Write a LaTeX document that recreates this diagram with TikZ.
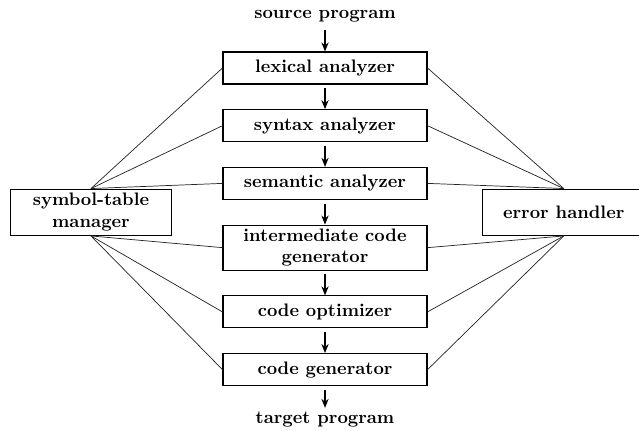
\documentclass[tikz,border=0pt]{standalone}
\usepackage{tikz}
\usetikzlibrary{arrows.meta, positioning, calc}
\tikzset{
    phase/.style={rectangle, draw, semithick, align=center, font=\bfseries, minimum width=112.8pt, minimum height=17.7pt, inner sep=2pt},
    sidebox/.style={rectangle, draw, semithick, align=center, font=\bfseries, minimum width=89pt, minimum height=25.6pt, inner sep=2pt},
    io/.style={font=\bfseries, inner sep=2pt},
    arrow/.style={semithick, -{Stealth[length=5pt, width=4pt]}, shorten <=2pt},
    link/.style={thin, black!85}
}
\begin{document}
\begin{tikzpicture}[node distance=13.6pt, auto]
    \clip (-179.7pt,37.6pt) rectangle (173.6pt,-200.2pt);
    % phases
    \node[phase] (lex) at (0,0) {lexical analyzer};
    \node[phase, below=of lex] (syn) {syntax analyzer};
    \node[phase, below=of syn] (sem) {semantic analyzer};
    \node[phase, below=of sem] (icg) {intermediate code\\generator};
    \node[phase, below=of icg] (opt) {code optimizer};
    \node[phase, below=of opt] (gen) {code generator};
    \node[io, above=14pt of lex] (src) {source program};
    \node[io, below=12pt of gen] (tgt) {target program};

    % side boxes
    \coordinate (mid) at ($(sem.south)!0.5!(icg.north)$);
    \node[sidebox] (sym) at ($(mid)+(-129.4pt,0)$) {symbol-table\\manager};
    \node[sidebox, minimum width=90pt] (err) at ($(mid)+(132pt,0)$) {error handler};

    \draw[arrow] (src) -- (lex);
    \draw[arrow] (lex) -- (syn);
    \draw[arrow] (syn) -- (sem);
    \draw[arrow] (sem) -- (icg);
    \draw[arrow] (icg) -- (opt);
    \draw[arrow] (opt) -- (gen);
    \draw[arrow] (gen) -- (tgt);

    \draw[link] (sym.north) -- (lex.west);
    \draw[link] (sym.north) -- (syn.west);
    \draw[link] (sym.north) -- (sem.west);
    \draw[link] (sym.south) -- (icg.west);
    \draw[link] (sym.south) -- (opt.west);
    \draw[link] (sym.south) -- (gen.west);

    \draw[link] (err.north) -- (lex.east);
    \draw[link] (err.north) -- (syn.east);
    \draw[link] (err.north) -- (sem.east);
    \draw[link] (err.south) -- (icg.east);
    \draw[link] (err.south) -- (opt.east);
    \draw[link] (err.south) -- (gen.east);
\end{tikzpicture}
\end{document}
